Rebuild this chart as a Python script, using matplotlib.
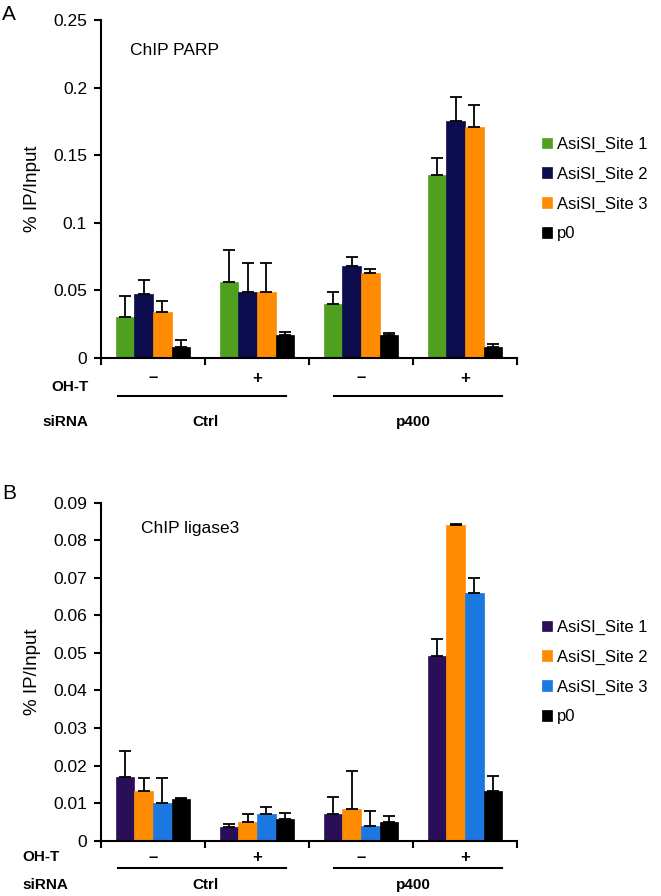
import numpy as np
import matplotlib
matplotlib.use("Agg")
import matplotlib.pyplot as plt
from matplotlib.transforms import blended_transform_factory

plt.rcParams['font.family'] = ['Liberation Sans', 'DejaVu Sans']

# condition order: Ctrl/-, Ctrl/+, p400/-, p400/+
oht_labels = ['–', '+', '–', '+']
sirna_labels = ['Ctrl', 'p400']

# panel A - ChIP PARP
parp_names = ['AsiSI_Site 1', 'AsiSI_Site 2', 'AsiSI_Site 3', 'p0']
parp_colors = ['#4fa01e', '#0d0c4f', '#ff8c00', '#000000']
parp_site1 = [0.030, 0.056, 0.040, 0.135]
parp_site2 = [0.047, 0.049, 0.068, 0.175]
parp_site3 = [0.034, 0.049, 0.063, 0.171]
parp_p0 = [0.008, 0.017, 0.017, 0.008]
parp_err1 = [0.016, 0.024, 0.009, 0.013]
parp_err2 = [0.011, 0.021, 0.007, 0.018]
parp_err3 = [0.008, 0.021, 0.003, 0.016]
parp_err0 = [0.005, 0.002, 0.0015, 0.002]

# panel B - ChIP ligase3
lig_names = ['AsiSI_Site 1', 'AsiSI_Site 2', 'AsiSI_Site 3', 'p0']
lig_colors = ['#2a0f58', '#ff8c00', '#1b78e0', '#000000']
lig_site1 = [0.0170, 0.0036, 0.0070, 0.0493]
lig_site2 = [0.0133, 0.0049, 0.0084, 0.0841]
lig_site3 = [0.0101, 0.0071, 0.0039, 0.0659]
lig_p0 = [0.0110, 0.0058, 0.0049, 0.0132]
lig_err1 = [0.0070, 0.0009, 0.0046, 0.0044]
lig_err2 = [0.0033, 0.0022, 0.0101, 0.0002]
lig_err3 = [0.0065, 0.0020, 0.0041, 0.0041]
lig_err0 = [0.0003, 0.0016, 0.0017, 0.0040]

W, H = 661, 896
fig = plt.figure(figsize=(W / 100, H / 100), dpi=100)


def fy(py):
    return 1 - py / H


def draw_panel(ax, series, errs, names, colors, ymax, ystep, title, title_pos,
               oht_y, line_y, sirna_y, leg_y, letter, letter_y):
    x = np.arange(4) + 0.5
    bw = 0.18
    for i, (vals, err) in enumerate(zip(series, errs)):
        xs = x + (i - 1.5) * bw
        ax.bar(xs, vals, width=bw, color=colors[i], edgecolor=colors[i],
               linewidth=0.5, label=names[i], zorder=2)
        ax.errorbar(xs, vals, yerr=[np.zeros(4), err], fmt='none',
                    ecolor='black', elinewidth=1.3, capsize=4, capthick=1.3,
                    zorder=3)
    ax.set_xlim(0, 4)
    ax.set_ylim(0, ymax)
    ax.set_yticks(np.arange(0, ymax + ystep / 2, ystep))
    ax.set_yticklabels([('%g' % v) for v in np.arange(0, ymax + ystep / 2, ystep)])
    ax.set_xticks([0, 1, 2, 3, 4])
    ax.set_xticklabels([])
    for s in ['top', 'right']:
        ax.spines[s].set_visible(False)
    for s in ['left', 'bottom']:
        ax.spines[s].set_linewidth(1.5)
    ax.tick_params(axis='both', direction='out', length=5, width=1.5,
                   labelsize=12.5, pad=5)
    ax.set_ylabel('% IP/Input', fontsize=13.5, labelpad=9)
    ax.text(title_pos[0], title_pos[1], title, transform=ax.transAxes,
            fontsize=12.5, va='center', ha='left')

    tr = blended_transform_factory(ax.transData, fig.transFigure)
    for xi, lab in zip(x, oht_labels):
        ax.text(xi, fy(oht_y), lab, transform=tr, ha='center', va='center',
                fontsize=12, fontweight='bold', clip_on=False)
    ax.plot([0.16, 1.78], [fy(line_y)] * 2, transform=tr, color='black',
            lw=1.5, clip_on=False)
    ax.plot([2.24, 3.86], [fy(line_y)] * 2, transform=tr, color='black',
            lw=1.5, clip_on=False)
    ax.text(1.0, fy(sirna_y), sirna_labels[0], transform=tr, ha='center',
            va='center', fontsize=11, fontweight='bold', clip_on=False)
    ax.text(3.0, fy(sirna_y), sirna_labels[1], transform=tr, ha='center',
            va='center', fontsize=11, fontweight='bold', clip_on=False)

    ax.legend(loc='center left', bbox_to_anchor=(542 / W, fy(leg_y)),
              bbox_transform=fig.transFigure, frameon=False, fontsize=12,
              handlelength=0.6, handleheight=0.6, handletextpad=0.3,
              labelspacing=0.88, borderpad=0, borderaxespad=0)
    fig.text(2 / W, fy(letter_y), letter, fontsize=15, ha='left', va='center')


axA = fig.add_axes([101 / W, fy(358), 416 / W, 338 / H])
draw_panel(axA, [parp_site1, parp_site2, parp_site3, parp_p0],
           [parp_err1, parp_err2, parp_err3, parp_err0],
           parp_names, parp_colors, 0.25, 0.05, 'ChIP PARP', (0.07, 0.91),
           378, 396, 422, 189, 'A', 14)
fig.text(70 / W, fy(387), 'OH-T', fontsize=11, fontweight='bold',
         ha='center', va='center')
fig.text(65 / W, fy(422), 'siRNA', fontsize=11, fontweight='bold',
         ha='center', va='center')

axB = fig.add_axes([101 / W, fy(840.7), 416 / W, 338 / H])
draw_panel(axB, [lig_site1, lig_site2, lig_site3, lig_p0],
           [lig_err1, lig_err2, lig_err3, lig_err0],
           lig_names, lig_colors, 0.09, 0.01, 'ChIP ligase3', (0.095, 0.924),
           857, 868, 885, 672, 'B', 493)
fig.text(41 / W, fy(857), 'OH-T', fontsize=11, fontweight='bold',
         ha='center', va='center')
fig.text(45 / W, fy(885), 'siRNA', fontsize=11, fontweight='bold',
         ha='center', va='center')

fig.savefig('out.png', dpi=100)
